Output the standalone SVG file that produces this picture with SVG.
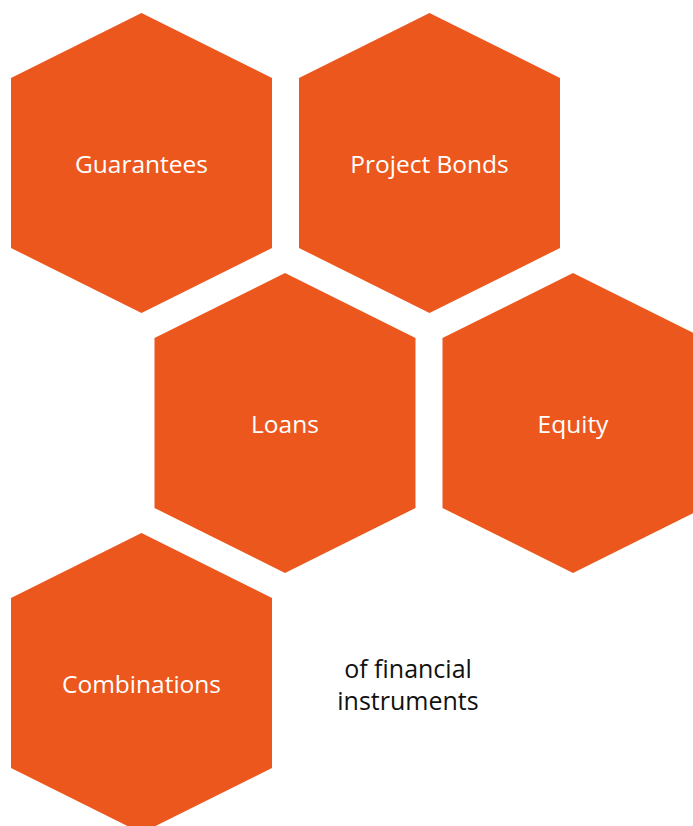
<svg xmlns="http://www.w3.org/2000/svg" width="693" height="826" viewBox="0 0 693 826">
<defs>
<style>
.hex{fill:#EC571D;}
.lbl{font-family:"Open Sans","Noto Sans","Liberation Sans",sans-serif;font-size:24.5px;fill:#ffffff;text-anchor:middle;}
.note{font-family:"Open Sans","Noto Sans","Liberation Sans",sans-serif;font-size:25px;fill:#111111;text-anchor:middle;}
</style>
<polygon id="hexShape" class="hex" points="0,-150 130.5,-85 130.5,85 0,150 -130.5,85 -130.5,-85"/>
</defs>
<rect width="693" height="826" fill="#ffffff"/>
<g id="connectors"></g>
<g id="guarantees"><use href="#hexShape" x="141.5" y="163"/><text class="lbl" x="141.5" y="173">Guarantees</text></g>
<g id="project-bonds"><use href="#hexShape" x="429.5" y="163"/><text class="lbl" x="429.5" y="173">Project Bonds</text></g>
<g id="loans"><use href="#hexShape" x="285" y="423"/><text class="lbl" x="285" y="433">Loans</text></g>
<g id="equity"><use href="#hexShape" x="573" y="423"/><text class="lbl" x="573" y="433">Equity</text></g>
<g id="combinations"><use href="#hexShape" x="141.5" y="683"/><text class="lbl" x="141.5" y="693">Combinations</text></g>
<g id="caption"><text class="note" x="408" y="678">of financial</text><text class="note" x="408" y="710">instruments</text></g>
</svg>
